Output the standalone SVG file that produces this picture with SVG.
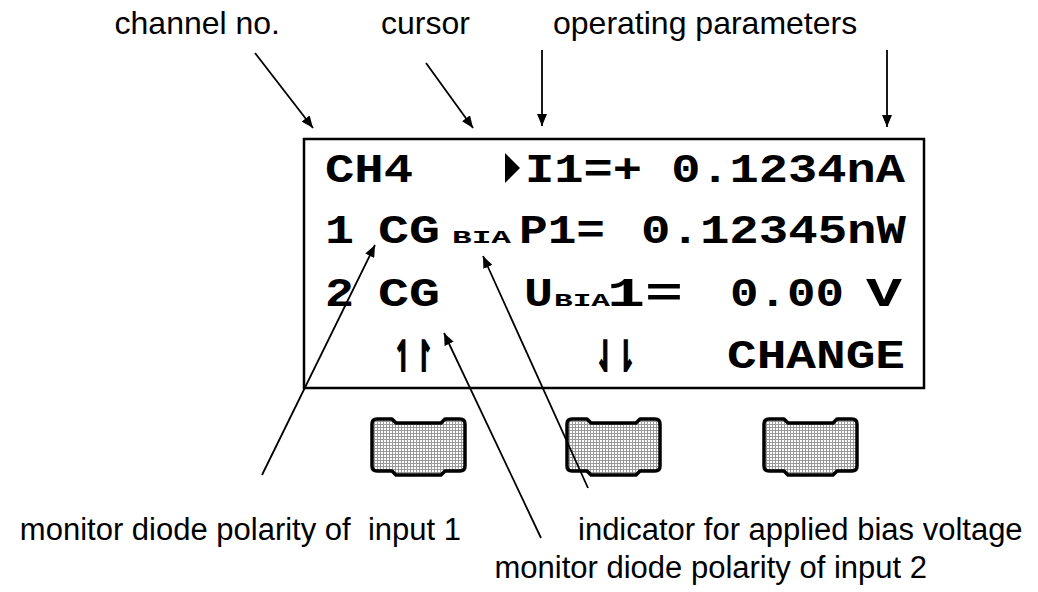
<svg xmlns="http://www.w3.org/2000/svg" width="1038" height="592" viewBox="0 0 1038 592">
<style>
.lbl{font-family:"Liberation Sans",Arial,sans-serif;font-size:32px;fill:#000}
.lblb{font-family:"Liberation Sans",Arial,sans-serif;font-size:31px;fill:#000}
.lcd{font-family:"Liberation Mono","Courier New",monospace;font-weight:bold;font-size:40px;fill:#000}
.sm{font-family:"Liberation Mono","Courier New",monospace;font-weight:bold;font-size:18px;fill:#000}
.hp{font-family:"DejaVu Sans",sans-serif;font-weight:bold;font-size:42px;fill:#000;stroke:#000;stroke-width:2.2}
.con{stroke:#000;stroke-width:1.8;fill:none;marker-end:url(#ah)}
.btn{fill:url(#mesh);stroke:#000;stroke-width:3.5;stroke-linejoin:round}
</style>
<defs>
<marker id="ah" markerUnits="userSpaceOnUse" markerWidth="12" markerHeight="10" viewBox="0 0 12 10" refX="12" refY="5" orient="auto">
<path d="M0,0 L12,5 L0,10 Z" fill="#000"/>
</marker>
<pattern id="mesh" patternUnits="userSpaceOnUse" width="3" height="3">
<rect width="3" height="3" fill="#fff"/>
<rect y="2" width="3" height="1" fill="#999"/>
<rect x="2" width="1" height="3" fill="#999"/>
</pattern>
<path id="key" d="M5,0 H20 L24,4 H69 L73,0 H88 Q93,0 93,5 V47 Q93,52 88,52 H73 L69,56 H24 L20,52 H5 Q0,52 0,47 V5 Q0,0 5,0 Z"/>
</defs>
<rect width="1038" height="592" fill="#fff"/>

<g id="display">
<rect x="304" y="139" width="620" height="249" fill="#fff" stroke="#000" stroke-width="2.5"/>
<g id="row1">
<text class="lcd" x="325" y="182" textLength="88" lengthAdjust="spacingAndGlyphs">CH4</text>
<polygon points="505,153 520,168 505,183" fill="#000"/>
<text class="lcd" x="525" y="182" textLength="380" lengthAdjust="spacingAndGlyphs">I1=+ 0.1234nA</text>
</g>
<g id="row2">
<text class="lcd" x="325" y="243" textLength="29" lengthAdjust="spacingAndGlyphs">1</text>
<text class="lcd" x="378" y="243" textLength="62" lengthAdjust="spacingAndGlyphs">CG</text>
<text class="sm" x="452" y="243" textLength="59" lengthAdjust="spacingAndGlyphs">BIA</text>
<text class="lcd" x="519" y="243" textLength="86" lengthAdjust="spacingAndGlyphs">P1=</text>
<text class="lcd" x="641" y="243" textLength="265" lengthAdjust="spacingAndGlyphs">0.12345nW</text>
</g>
<g id="row3">
<text class="lcd" x="325" y="306" textLength="29" lengthAdjust="spacingAndGlyphs">2</text>
<text class="lcd" x="378" y="306" textLength="62" lengthAdjust="spacingAndGlyphs">CG</text>
<text class="lcd" x="524" y="306" textLength="29" lengthAdjust="spacingAndGlyphs">U</text>
<text class="sm" x="554" y="306" textLength="56" lengthAdjust="spacingAndGlyphs">BIA</text>
<text class="lcd" x="607" y="306" textLength="76" lengthAdjust="spacingAndGlyphs">1=</text>
<text class="lcd" x="730" y="306" textLength="114" lengthAdjust="spacingAndGlyphs">0.00</text>
<text class="lcd" x="866" y="306" textLength="36" lengthAdjust="spacingAndGlyphs">V</text>
</g>
<g id="row4">
<text class="hp" x="393" y="371" textLength="41" lengthAdjust="spacingAndGlyphs">↿↾</text>
<text class="hp" x="595" y="371" textLength="41" lengthAdjust="spacingAndGlyphs">⇃⇂</text>
<text class="lcd" x="727" y="368" textLength="178" lengthAdjust="spacingAndGlyphs">CHANGE</text>
</g>
</g>

<g id="button1"><use href="#key" x="372" y="419" class="btn"/></g>
<g id="button2"><use href="#key" x="567" y="419" class="btn"/></g>
<g id="button3"><use href="#key" x="764" y="419" class="btn"/></g>

<g id="label-channel"><text class="lbl" x="280" y="34" text-anchor="end">channel no.</text></g>
<g id="label-cursor"><text class="lbl" x="381" y="34">cursor</text></g>
<g id="label-operating"><text class="lbl" x="553" y="34">operating parameters</text></g>
<g id="label-input1"><text class="lblb" x="461" y="540" text-anchor="end" xml:space="preserve">monitor diode polarity of  input 1</text></g>
<g id="label-bias"><text class="lblb" x="578" y="540">indicator for applied bias voltage</text></g>
<g id="label-input2"><text class="lblb" x="927" y="578" text-anchor="end">monitor diode polarity of input 2</text></g>

<g id="connectors">
<line class="con" x1="255" y1="53" x2="313" y2="128"/>
<line class="con" x1="426" y1="63" x2="473" y2="128"/>
<line class="con" x1="542" y1="50" x2="542" y2="126"/>
<line class="con" x1="887" y1="50" x2="887" y2="127"/>
<line class="con" x1="262" y1="475" x2="375" y2="245"/>
<line class="con" x1="588" y1="488" x2="483" y2="256"/>
<line class="con" x1="541" y1="538" x2="444" y2="333"/>
</g>
</svg>
